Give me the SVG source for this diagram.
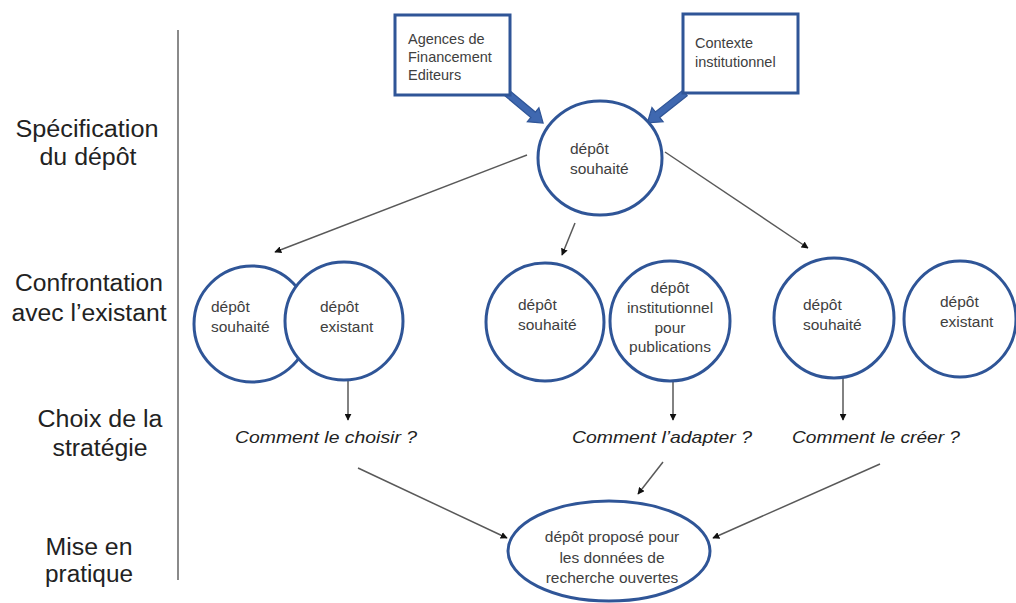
<svg xmlns="http://www.w3.org/2000/svg" width="1016" height="603" viewBox="0 0 1016 603">
<style>
.lbl{font-family:"Liberation Sans",Arial,sans-serif;font-size:23px;fill:#222;text-anchor:middle}
.nt{font-family:"Liberation Sans",Arial,sans-serif;font-size:15.5px;fill:#404040}
.bt{font-family:"Liberation Sans",Arial,sans-serif;font-size:14.5px;fill:#404040}
.q{font-family:"Liberation Sans",Arial,sans-serif;font-size:17px;font-style:italic;fill:#222;text-anchor:middle}
.c{fill:#fff;stroke:#2F5597;stroke-width:3}
.box{fill:#fff;stroke:#2F5597;stroke-width:3}
.ln{stroke:#595959;stroke-width:1.5;fill:none;marker-end:url(#ah)}
.big{fill:#3F68B0;stroke:#2F5597;stroke-width:1.2}
</style>
<defs>
<marker id="ah" viewBox="0 0 10 10" refX="9" refY="5" markerWidth="7" markerHeight="7" markerUnits="userSpaceOnUse" orient="auto">
<path d="M0,0 L10,5 L0,10 z" fill="#111"/>
</marker>
</defs>
<rect width="1016" height="603" fill="#fff"/>

<g id="axis">
<line x1="178" y1="30" x2="178" y2="580" stroke="#8a8a8a" stroke-width="2"/>
</g>

<g id="labels">
<text class="lbl" x="87" y="137" textLength="143" lengthAdjust="spacingAndGlyphs">Spécification</text>
<text class="lbl" x="88" y="165" textLength="97" lengthAdjust="spacingAndGlyphs">du dépôt</text>
<text class="lbl" x="89" y="291" textLength="148" lengthAdjust="spacingAndGlyphs">Confrontation</text>
<text class="lbl" x="89" y="321" textLength="155" lengthAdjust="spacingAndGlyphs">avec l’existant</text>
<text class="lbl" x="100" y="427" textLength="125" lengthAdjust="spacingAndGlyphs">Choix de la</text>
<text class="lbl" x="100" y="456" textLength="95" lengthAdjust="spacingAndGlyphs">stratégie</text>
<text class="lbl" x="89" y="555" textLength="87" lengthAdjust="spacingAndGlyphs">Mise en</text>
<text class="lbl" x="89" y="582" textLength="88" lengthAdjust="spacingAndGlyphs">pratique</text>
</g>

<g id="connectors">
<polygon class="big" points="0,-3.5 34,-3.5 34,-9 47,0 34,9 34,3.5 0,3.5" transform="translate(507,93) rotate(39.8)"/>
<polygon class="big" points="0,-3.5 35,-3.5 35,-9 48,0 35,9 35,3.5 0,3.5" transform="translate(685,93) rotate(141.7)"/>
<line class="ln" x1="527" y1="155" x2="275" y2="252"/>
<line class="ln" x1="575" y1="223" x2="562" y2="255"/>
<line class="ln" x1="665" y1="152" x2="808" y2="248"/>
<line class="ln" x1="348" y1="381" x2="348" y2="420"/>
<line class="ln" x1="673" y1="382" x2="673" y2="420"/>
<line class="ln" x1="843" y1="378" x2="843" y2="420"/>
<line class="ln" x1="358" y1="468" x2="507" y2="538"/>
<line class="ln" x1="663" y1="462" x2="638" y2="494"/>
<line class="ln" x1="880" y1="464" x2="713" y2="538"/>
</g>

<g id="box-agences">
<rect class="box" x="395" y="15" width="115" height="80"/>
<text class="bt" x="408" y="44">Agences de</text>
<text class="bt" x="408" y="62">Financement</text>
<text class="bt" x="408" y="80">Editeurs</text>
</g>

<g id="box-contexte">
<rect class="box" x="683" y="14" width="115" height="79"/>
<text class="bt" x="695" y="48">Contexte</text>
<text class="bt" x="695" y="67">institutionnel</text>
</g>

<g id="top-souhaite">
<ellipse class="c" cx="600" cy="158" rx="62" ry="57"/>
<text class="nt" x="570" y="154">dépôt</text>
<text class="nt" x="570" y="174">souhaité</text>
</g>

<g id="a-souhaite">
<circle class="c" cx="252" cy="324" r="58"/>
<text class="nt" x="211" y="312">dépôt</text>
<text class="nt" x="211" y="332">souhaité</text>
</g>

<g id="b-existant">
<circle class="c" cx="344" cy="321" r="59"/>
<text class="nt" x="320" y="312">dépôt</text>
<text class="nt" x="320" y="332">existant</text>
</g>

<g id="c-souhaite">
<circle class="c" cx="545" cy="322" r="59"/>
<text class="nt" x="518" y="310">dépôt</text>
<text class="nt" x="518" y="330">souhaité</text>
</g>

<g id="d-institutionnel">
<circle class="c" cx="670" cy="321" r="60"/>
<text class="nt" x="670" y="293" text-anchor="middle">dépôt</text>
<text class="nt" x="670" y="313" text-anchor="middle">institutionnel</text>
<text class="nt" x="670" y="333" text-anchor="middle">pour</text>
<text class="nt" x="670" y="352" text-anchor="middle">publications</text>
</g>

<g id="e-souhaite">
<circle class="c" cx="834" cy="318" r="60"/>
<text class="nt" x="803" y="310">dépôt</text>
<text class="nt" x="803" y="330">souhaité</text>
</g>

<g id="f-existant">
<ellipse class="c" cx="960" cy="319" rx="56" ry="58"/>
<text class="nt" x="940" y="307">dépôt</text>
<text class="nt" x="940" y="327">existant</text>
</g>

<g id="q-choisir">
<text class="q" x="326" y="443" textLength="182" lengthAdjust="spacingAndGlyphs">Comment le choisir ?</text>
</g>
<g id="q-adapter">
<text class="q" x="662" y="443" textLength="180" lengthAdjust="spacingAndGlyphs">Comment l’adapter ?</text>
</g>
<g id="q-creer">
<text class="q" x="876" y="443" textLength="168" lengthAdjust="spacingAndGlyphs">Comment le créer ?</text>
</g>

<g id="propose">
<ellipse class="c" cx="609" cy="551" rx="101" ry="50"/>
<text class="nt" x="612" y="542" text-anchor="middle">dépôt proposé pour</text>
<text class="nt" x="612" y="563" text-anchor="middle">les données de</text>
<text class="nt" x="612" y="583" text-anchor="middle">recherche ouvertes</text>
</g>
</svg>
